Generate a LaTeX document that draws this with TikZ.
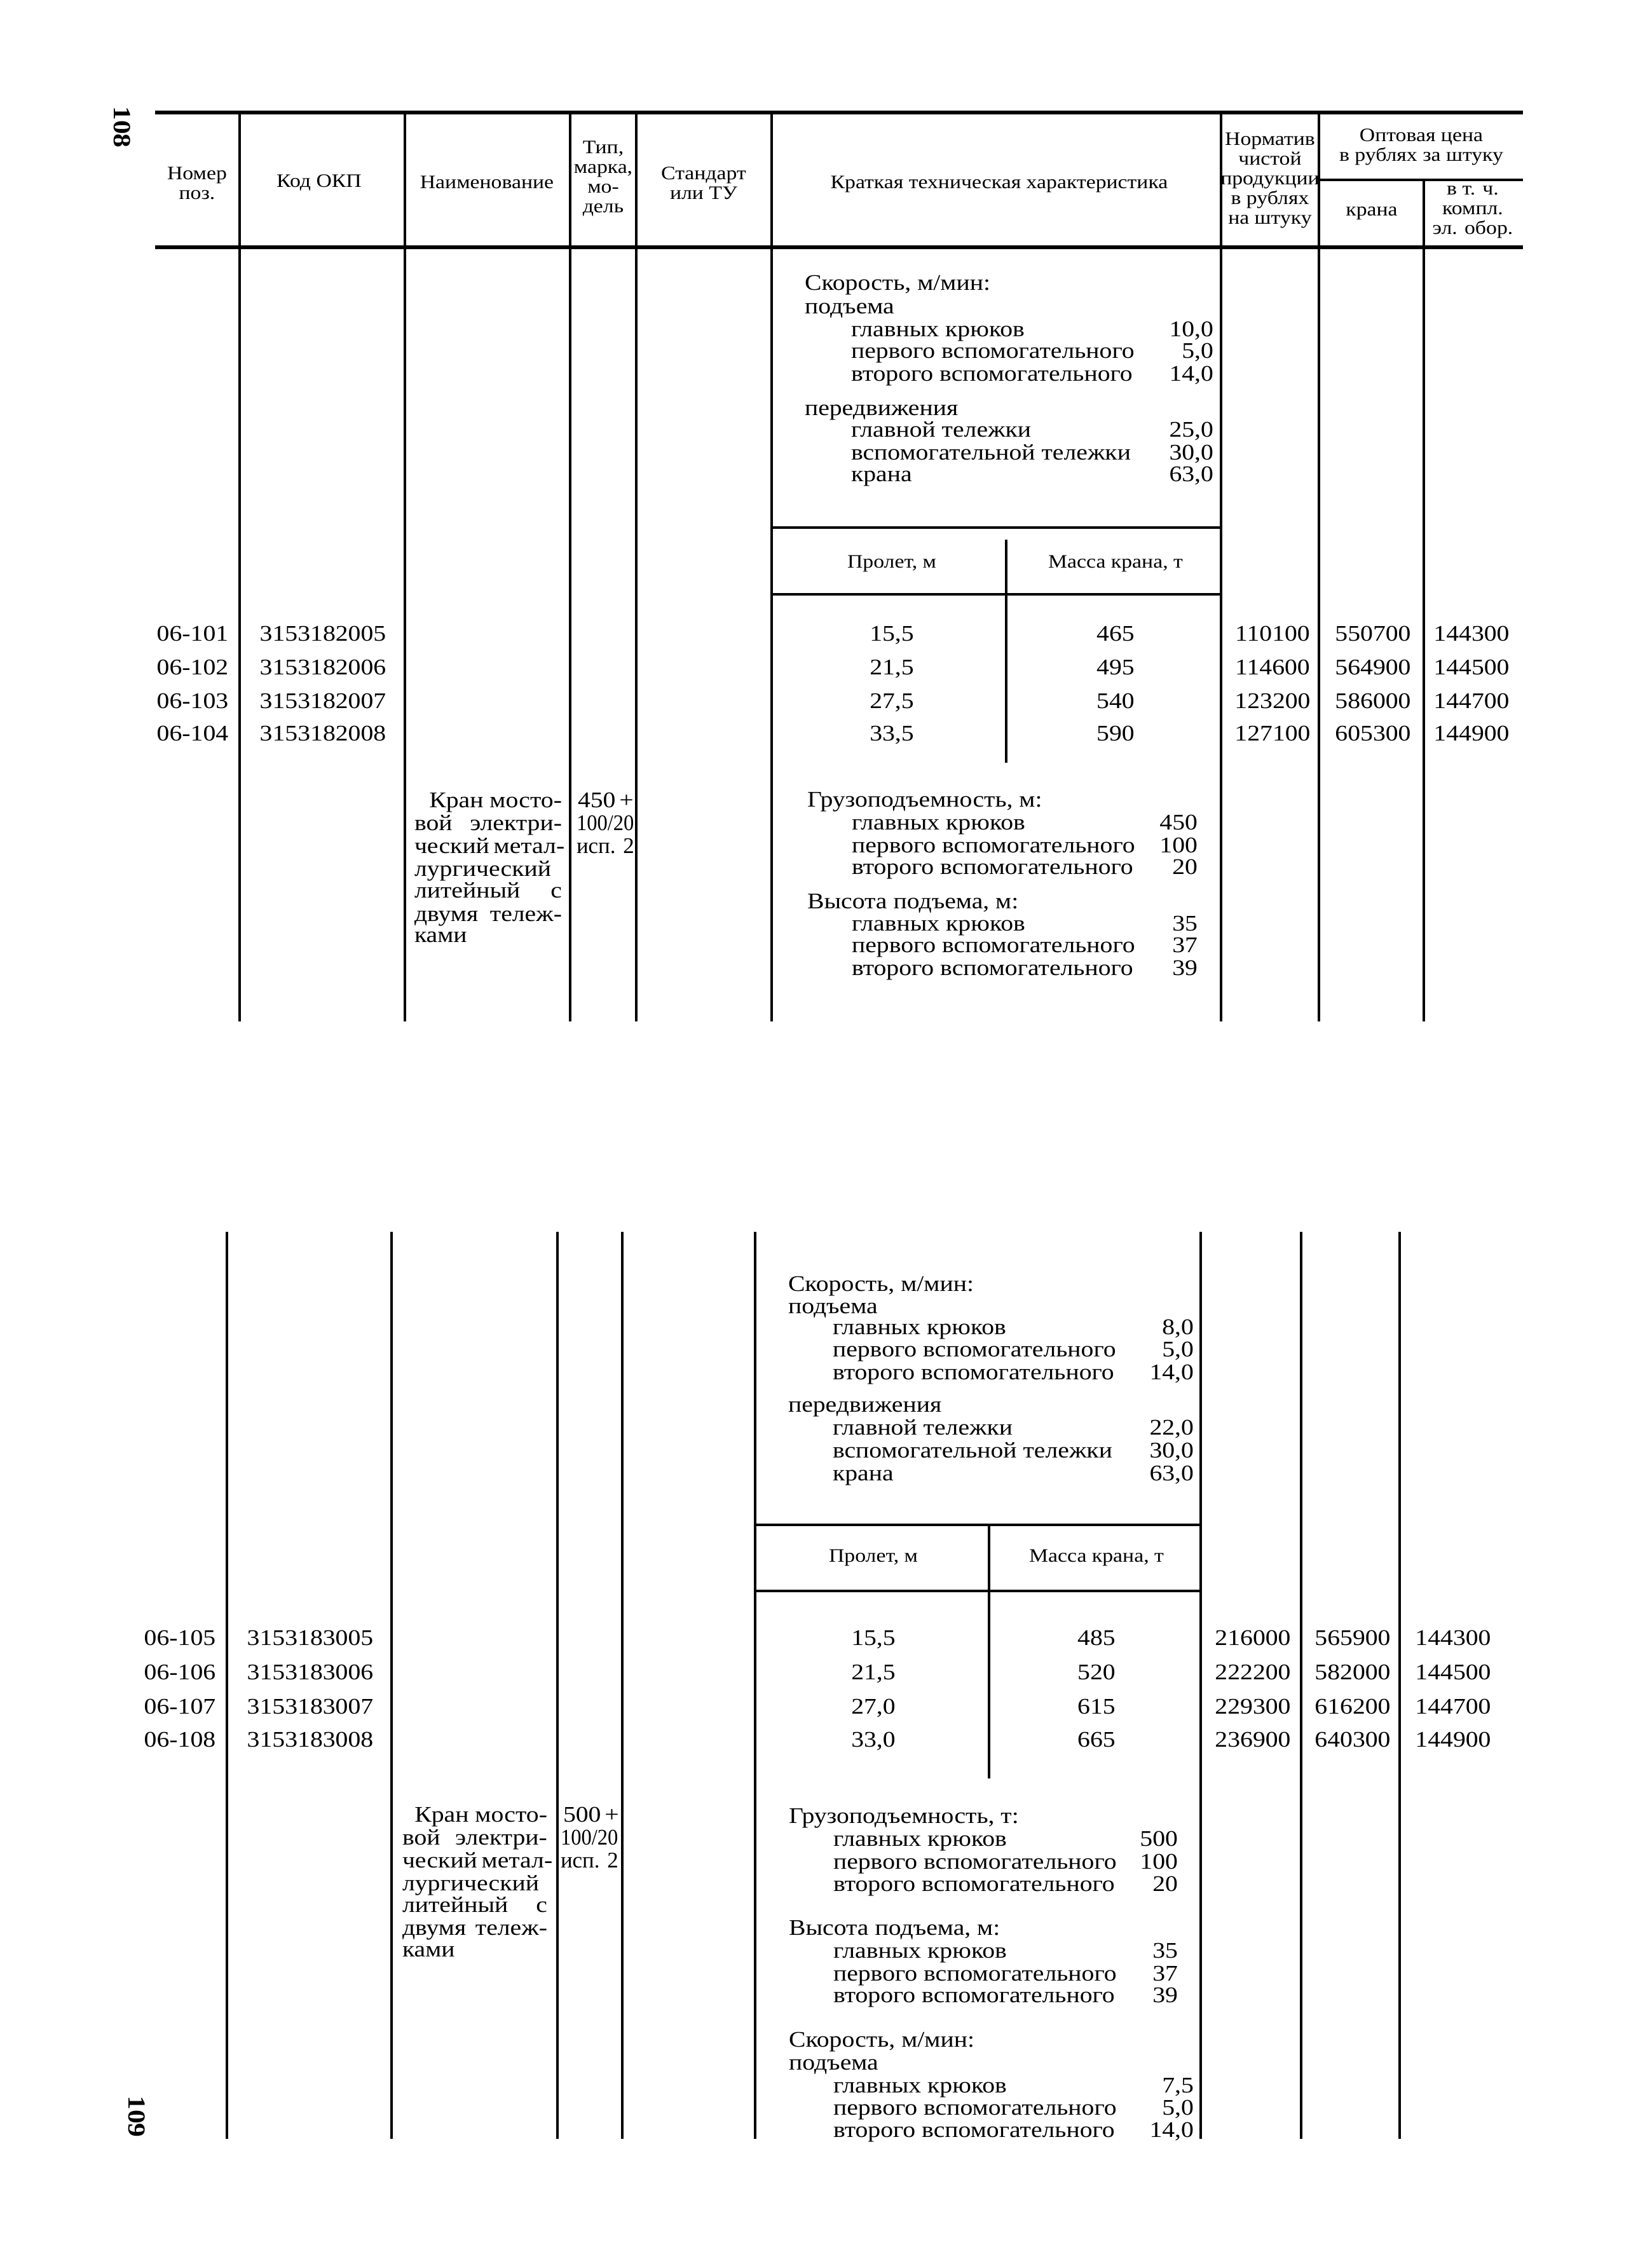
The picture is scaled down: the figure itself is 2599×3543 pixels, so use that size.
\documentclass[tikz,border=0pt]{standalone}
\usepackage{fontspec}
\newfontfamily\serf{Liberation Serif}[FakeStretch=1.13]
\newcommand\bfnt{\serf\fontsize{10}{12}\selectfont}
\newcommand\hfnt{\serf\fontsize{8.5}{8.8}\selectfont}
\newcommand\kv[6]{\node[tl] (#1a) at (#2,#3) {#4}; \node[tr] (#1b) at (#5,#3) {#6};}
\newcommand\kh[4]{\node[tl] (#1) at (#2,#3) {#4};}
\tikzset{
  vl/.style={line width=0.35mm},
  hl/.style={line width=0.6mm},
  ml/.style={line width=0.45mm},
  tl/.style={inner sep=0pt, outer sep=0pt, font=\bfnt, anchor=base west},
  tr/.style={inner sep=0pt, outer sep=0pt, font=\bfnt, anchor=base east},
  tc/.style={inner sep=0pt, outer sep=0pt, font=\bfnt, anchor=base},
  hd/.style={inner sep=0pt, outer sep=0pt, font=\hfnt, align=center},
}
\begin{document}
\begin{tikzpicture}[x=0.1mm,y=-0.1mm]
\fill[white] (0,0) rectangle (2599,3543);
\useasboundingbox (0,0) rectangle (2599,3543);

% page numbers
\node[rotate=-90, inner sep=0pt, font=\serf\fontsize{11}{11}\selectfont\bfseries] (pg1) at (192,200) {108};
\node[rotate=-90, inner sep=0pt, font=\serf\fontsize{11}{11}\selectfont\bfseries] (pg2) at (215,3330) {109};

% ================= upper table rules
\draw[hl] (244,177) -- (2396,177);
\draw[hl] (244,389) -- (2396,389);
\draw[ml] (2075,283) -- (2396,283);
\foreach \x in {377,637,897,1001,1214,1921,2075} \draw[vl] (\x,177) -- (\x,1607);
\draw[vl] (2240,283) -- (2240,1607);
\draw[ml] (1214,830) -- (1921,830);
\draw[ml] (1214,935) -- (1921,935);
\draw[vl] (1583,849) -- (1583,1200);

% header
\node[hd] (h1) at (310,288) {Номер\\поз.};
\node[hd] (h2) at (502,287) {Код ОКП};
\node[hd] (h3) at (766,287) {Наименование};
\node[hd] (h4) at (949,281) {Тип,\\марка,\\мо-\\дель};
\node[hd] (h5) at (1107,288) {Стандарт\\или ТУ};
\node[hd] (h6) at (1572,290) {Краткая техническая характеристика};
\node[hd] (h7) at (1998,284) {Норматив\\чистой\\продукции\\в рублях\\на штуку};
\node[hd] (h8) at (2236,231) {Оптовая цена\\в рублях за штуку};
\node[hd] (h9) at (2158,336) {крана};
\node[hd] (h10) at (2317,334) {в т. ч.\\компл.\\эл. обор.};

% upper speeds
\kh{us0}{1266}{456}{Скорость, м/мин:}
\kh{us1}{1266}{493}{подъема}
\kv{us2}{1339}{529}{главных крюков}{1909}{10,0}
\kv{us3}{1339}{563}{первого вспомогательного}{1909}{5,0}
\kv{us4}{1339}{599}{второго вспомогательного}{1909}{14,0}
\kh{us5}{1266}{653}{передвижения}
\kv{us6}{1339}{687}{главной тележки}{1909}{25,0}
\kv{us7}{1339}{723}{вспомогательной тележки}{1909}{30,0}
\kv{us8}{1339}{757}{крана}{1909}{63,0}
\node[hd] (up) at (1403,887) {Пролет, м};
\node[hd] (um) at (1755,887) {Масса крана, т};

% upper data rows
\foreach \y/\p/\c/\s/\m/\n/\w/\e [count=\k] in {
  1008/06-101/3153182005/{15,5}/465/110100/550700/144300,
  1061/06-102/3153182006/{21,5}/495/114600/564900/144500,
  1114/06-103/3153182007/{27,5}/540/123200/586000/144700,
  1165/06-104/3153182008/{33,5}/590/127100/605300/144900}{
  \node[tc] (ua\k) at (303,\y) {\p};
  \node[tc] (ub\k) at (508,\y) {\c};
  \node[tc] (uc\k) at (1403,\y) {\s};
  \node[tc] (ud\k) at (1755,\y) {\m};
  \node[tc] (ue\k) at (2002,\y) {\n};
  \node[tc] (uf\k) at (2160,\y) {\w};
  \node[tc] (ug\k) at (2315,\y) {\e};
}

% upper name
\node[tr] (un1) at (884,1270) {Кран мосто-};
\node[tl] (un2) at (652,1306) {\makebox[23.2mm][s]{вой электри-}};
\node[tl] (un3) at (652,1342) {\makebox[23.2mm][s]{ческий метал-}};
\node[tl] (un4) at (652,1378) {лургический};
\node[tl] (un5) at (652,1412) {\makebox[23.2mm][s]{литейный с}};
\node[tl] (un6) at (652,1449) {\makebox[23.2mm][s]{двумя тележ-}};
\node[tl] (un7) at (652,1482) {ками};
\node[tl] (ut1) at (909,1270) {450\,+};
\node[tl] (ut2) at (907,1306) {\scalebox{0.82}[1]{100/20}};
\node[tl] (ut3) at (907,1342) {\scalebox{0.88}[1]{исп. 2}};

% upper capacity
\kh{uc0}{1270}{1269}{Грузоподъемность, м:}
\kv{uc1}{1340}{1305}{главных крюков}{1884}{450}
\kv{uc2}{1340}{1341}{первого вспомогательного}{1884}{100}
\kv{uc3}{1340}{1375}{второго вспомогательного}{1884}{20}
\kh{uh0}{1270}{1429}{Высота подъема, м:}
\kv{uh1}{1340}{1464}{главных крюков}{1884}{35}
\kv{uh2}{1340}{1498}{первого вспомогательного}{1884}{37}
\kv{uh3}{1340}{1534}{второго вспомогательного}{1884}{39}

% ================= lower table rules
\foreach \x in {357,616,877,979,1188,1889,2047,2202} \draw[vl] (\x,1938) -- (\x,3365);
\draw[ml] (1188,2399) -- (1889,2399);
\draw[ml] (1188,2503) -- (1889,2503);
\draw[vl] (1556,2399) -- (1556,2798);

% lower speeds
\kh{ls0}{1240}{2031}{Скорость, м/мин:}
\kh{ls1}{1240}{2066}{подъема}
\kv{ls2}{1310}{2099}{главных крюков}{1878}{8,0}
\kv{ls3}{1310}{2134}{первого вспомогательного}{1878}{5,0}
\kv{ls4}{1310}{2170}{второго вспомогательного}{1878}{14,0}
\kh{ls5}{1240}{2221}{передвижения}
\kv{ls6}{1310}{2257}{главной тележки}{1878}{22,0}
\kv{ls7}{1310}{2293}{вспомогательной тележки}{1878}{30,0}
\kv{ls8}{1310}{2329}{крана}{1878}{63,0}
\node[hd] (lp) at (1374,2451) {Пролет, м};
\node[hd] (lm) at (1725,2451) {Масса крана, т};

% lower data rows
\foreach \y/\p/\c/\s/\m/\n/\w/\e [count=\k] in {
  2588/06-105/3153183005/{15,5}/485/216000/565900/144300,
  2642/06-106/3153183006/{21,5}/520/222200/582000/144500,
  2696/06-107/3153183007/{27,0}/615/229300/616200/144700,
  2748/06-108/3153183008/{33,0}/665/236900/640300/144900}{
  \node[tc] (la\k) at (283,\y) {\p};
  \node[tc] (lb\k) at (488,\y) {\c};
  \node[tc] (lc\k) at (1374,\y) {\s};
  \node[tc] (ld\k) at (1725,\y) {\m};
  \node[tc] (le\k) at (1971,\y) {\n};
  \node[tc] (lf\k) at (2128,\y) {\w};
  \node[tc] (lg\k) at (2286,\y) {\e};
}

% lower name
\node[tr] (ln1) at (861,2866) {Кран мосто-};
\node[tl] (ln2) at (633,2902) {\makebox[22.8mm][s]{вой электри-}};
\node[tl] (ln3) at (633,2938) {\makebox[22.8mm][s]{ческий метал-}};
\node[tl] (ln4) at (633,2974) {лургический};
\node[tl] (ln5) at (633,3008) {\makebox[22.8mm][s]{литейный с}};
\node[tl] (ln6) at (633,3044) {\makebox[22.8mm][s]{двумя тележ-}};
\node[tl] (ln7) at (633,3078) {ками};
\node[tl] (lt1) at (886,2866) {500\,+};
\node[tl] (lt2) at (882,2902) {\scalebox{0.82}[1]{100/20}};
\node[tl] (lt3) at (882,2938) {\scalebox{0.88}[1]{исп. 2}};

% lower capacity
\kh{lc0}{1241}{2868}{Грузоподъемность, т:}
\kv{lc1}{1311}{2904}{главных крюков}{1853}{500}
\kv{lc2}{1311}{2940}{первого вспомогательного}{1853}{100}
\kv{lc3}{1311}{2975}{второго вспомогательного}{1853}{20}
\kh{lh0}{1241}{3044}{Высота подъема, м:}
\kv{lh1}{1311}{3080}{главных крюков}{1853}{35}
\kv{lh2}{1311}{3116}{первого вспомогательного}{1853}{37}
\kv{lh3}{1311}{3150}{второго вспомогательного}{1853}{39}
\kh{lv0}{1241}{3220}{Скорость, м/мин:}
\kh{lv1}{1241}{3256}{подъема}
\kv{lv2}{1311}{3292}{главных крюков}{1878}{7,5}
\kv{lv3}{1311}{3327}{первого вспомогательного}{1878}{5,0}
\kv{lv4}{1311}{3362}{второго вспомогательного}{1878}{14,0}
\end{tikzpicture}
\end{document}
